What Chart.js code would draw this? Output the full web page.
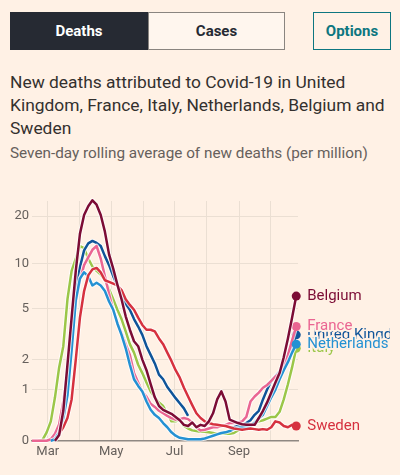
<!DOCTYPE html>
<html>
<head>
<meta charset="utf-8">
<script src="https://cdn.jsdelivr.net/npm/chart.js@4.4.0/dist/chart.umd.min.js"></script>
<style>
  html, body { margin: 0; padding: 0; background: #fff1e5; }
  body { width: 400px; height: 475px; position: relative; overflow: hidden; font-family: Roboto, sans-serif; color: #33302e; }
  .btn { position: absolute; top: 12px; height: 38px; box-sizing: border-box; display: flex; align-items: center; justify-content: center; font-weight: bold; font-size: 15px; }
  #deaths { left: 10px; width: 138px; background: #262a33; color: #fff; }
  #cases { left: 148px; width: 137px; border: 1px solid #8a8580; background: #fff6ee; color: #262a33; }
  #options { left: 313px; width: 78px; border: 1px solid #0d7680; color: #0d7680; }
  #title { position: absolute; left: 10px; top: 71px; font-size: 17.4px; line-height: 23px; white-space: nowrap; }
  #subtitle { position: absolute; left: 10px; top: 142px; font-size: 15.3px; line-height: 22px; color: #66605c; white-space: nowrap; }
  #wrap { position: absolute; left: 0; top: 190px; width: 390px; height: 285px; }
</style>
</head>
<body>
<div class="btn" id="deaths">Deaths</div>
<div class="btn" id="cases">Cases</div>
<div class="btn" id="options">Options</div>
<div id="title">New deaths attributed to Covid-19 in United<br>Kingdom, France, Italy, Netherlands, Belgium and<br>Sweden</div>
<div id="subtitle">Seven-day rolling average of new deaths (per million)</div>
<div id="wrap"><canvas id="chart"></canvas></div>
<script>
// day of year 2020 (0 = 1 Jan), one reading every 4 days
const days = [43, 47, 51, 55, 59, 63, 67, 71, 75, 79, 83, 87, 91, 95, 99, 103, 107, 111, 115, 119,
  123, 127, 131, 135, 139, 143, 147, 151, 155, 159, 163, 167, 171, 175, 179, 183, 187, 191, 195, 199,
  203, 207, 211, 215, 219, 223, 227, 231, 235, 239, 243, 247, 251, 255, 259, 263, 267, 271, 275, 279,
  283, 287, 291, 295, 299];

const monthTicks = [60, 91, 121, 152, 182, 213, 244, 274];
const monthLabels = ['Mar', '', 'May', '', 'Jul', '', 'Sep', ''];
const yTicks = [0, 1, 2, 5, 10, 20];

// deaths per million, 7-day average
const belgium = [null, null, null, null, null, null, 0, 0.08, 0.5, 1.8, 4.3, 9, 15.5, 20.3, 23, 25, 23.5, 20.3, 16, 11.5,
  9.3, 7.3, 5.8, 4.4, 3.5, 2.85, 2.6, 2.0, 1.6, 1.15, 0.8, 0.6, 0.52, 0.48, 0.44, 0.38, 0.32, 0.24, 0.22, 0.28,
  0.2, 0.24, 0.22, 0.3, 0.45, 0.75, 0.95, 0.7, 0.33, 0.3, 0.27, 0.25, 0.24, 0.24, 0.24, 0.36, 0.5, 0.68, 0.92, 1.2,
  1.5, 2.1, 3.0, 4.3, 6.1];
const sweden = [null, null, null, null, null, null, null, 0.1, 0.2, 0.36, 0.75, 2.0, 4.3, 6.6, 8.4, 9.2, 9.4, 8.8, 7.8, 7.6,
  7.4, 7.2, 6.7, 5.8, 5.3, 4.9, 4.3, 3.8, 3.5, 3.5, 3.4, 3.0, 2.7, 2.3, 1.95, 1.6, 1.35, 1.05, 0.82, 0.62,
  0.45, 0.36, 0.3, 0.27, 0.25, 0.24, 0.23, 0.22, 0.2, 0.18, 0.17, 0.16, 0.17, 0.18, 0.17, 0.16, 0.17, 0.16, 0.2, 0.3,
  0.28, 0.22, 0.2, 0.24, 0.22];
const netherlands = [null, null, null, null, null, 0, 0.02, 0.12, 0.35, 0.85, 2.4, 5.7, 8.0, 8.8, 8.3, 7.2, 7.5, 7.2, 6.6, 5.6,
  4.9, 3.9, 3.2, 2.5, 1.8, 1.3, 1.1, 0.95, 0.7, 0.52, 0.42, 0.36, 0.27, 0.2, 0.12, 0.07, 0.04, 0.03, 0.02, 0.02,
  0.02, 0.02, 0.03, 0.05, 0.07, 0.09, 0.11, 0.12, 0.14, 0.17, 0.19, 0.2, 0.2, 0.22, 0.28, 0.35, 0.42, 0.6, 0.8, 1.0,
  1.3, 1.6, 1.9, 2.3, 2.7];
const france = [0, 0, 0, 0, 0, 0.02, 0.1, 0.25, 0.7, 1.6, 3.2, 5.5, 7.8, 9.8, 11, 12.3, 13, 10.8, 8.3, 6.3,
  4.9, 3.9, 3.3, 2.7, 2.2, 1.5, 1.2, 0.95, 0.82, 0.65, 0.58, 0.5, 0.45, 0.4, 0.36, 0.33, 0.34, 0.36, 0.34, 0.28,
  0.2, 0.15, 0.16, 0.18, 0.2, 0.2, 0.22, 0.24, 0.27, 0.27, 0.28, 0.3, 0.38, 0.7, 0.82, 0.92, 1.05, 1.13, 1.25, 1.38,
  1.5, 1.75, 2.2, 2.9, 3.7];
const unitedKingdom = [null, null, null, null, null, 0, 0.05, 0.2, 0.6, 1.6, 3.5, 6.5, 9.5, 12.2, 13.5, 14, 13.6, 13, 11.2, 9.8,
  8.3, 7.2, 6.2, 5.4, 4.9, 4.2, 3.7, 3.2, 2.6, 2.2, 1.85, 1.45, 1.3, 1.07, 0.92, 0.78, 0.66, 0.55, 0.4, null,
  null, null, null, null, null, null, null, null, 0.18, 0.2, 0.22, 0.24, 0.27, 0.32, 0.42, 0.5, 0.75, 1.0, 1.25, 1.4,
  1.55, 1.75, 2.2, 2.6, 3.2];
const italy = [null, null, 0, 0.01, 0.12, 0.3, 0.8, 1.7, 2.6, 5.8, 9.0, 10.8, 13.0, 12.6, 10.8, 9.6, 9.0, 8.5, 7.8, 6.8,
  5.8, 4.9, 4.2, 3.4, 2.7, 2.3, 1.8, 1.5, 1.2, 0.95, 0.8, 0.68, 0.6, 0.45, 0.3, 0.3, 0.33, 0.22, 0.18, 0.15,
  0.14, 0.13, 0.13, 0.12, 0.11, 0.1, 0.1, 0.1, 0.1, 0.11, 0.15, 0.18, 0.2, 0.22, 0.27, 0.3, 0.32, 0.35, 0.38, 0.38,
  0.48, 0.75, 1.15, 1.7, 2.5];

const names = ['Belgium', 'Sweden', 'Netherlands', 'France', 'United Kingdom', 'Italy'];
const series = [belgium, sweden, netherlands, france, unitedKingdom, italy];
const colors = ['#7c0c35', '#d6313f', '#2491d3', '#ea6592', '#0f5499', '#9bc648'];
// later entries are written on top
const labelOrder = ['Italy', 'United Kingdom', 'France', 'Netherlands', 'Belgium', 'Sweden'];

const FONT = 'Roboto, sans-serif';
const sym = v => v == null ? null : Math.log10(1 + v);

// each country gets a pale halo line drawn just under it
const datasets = [];
names.forEach((name, i) => {
  const pts = days.map((d, j) => ({ x: d, y: sym(series[i][j]) }));
  datasets.push({
    label: name,
    data: pts,
    borderColor: colors[i],
    backgroundColor: colors[i],
    borderWidth: 2.5,
    borderJoinStyle: 'round',
    tension: 0,
    clip: { left: 0, right: 8, top: 6, bottom: 6 },
    pointRadius: c => c.dataIndex === days.length - 1 ? 4.5 : 0,
    pointBorderWidth: 0,
    pointBackgroundColor: colors[i]
  });
  datasets.push({
    label: name + ' halo',
    data: pts,
    borderColor: 'rgba(255,255,255,0.75)',
    borderWidth: 4.5,
    borderJoinStyle: 'round',
    tension: 0,
    clip: { left: 0, right: 8, top: 6, bottom: 6 },
    pointRadius: 0
  });
});

const endLabels = {
  id: 'endLabels',
  afterDatasetsDraw(chart) {
    const ctx = chart.ctx;
    ctx.save();
    ctx.font = '15px ' + FONT;
    ctx.textBaseline = 'middle';
    ctx.lineJoin = 'round';
    labelOrder.forEach(name => {
      const i = names.indexOf(name);
      const meta = chart.getDatasetMeta(i * 2);
      const pt = meta.data[meta.data.length - 1];
      ctx.lineWidth = 4;
      ctx.strokeStyle = '#fff1e5';
      ctx.strokeText(name, pt.x + 11, pt.y);
      ctx.fillStyle = colors[i];
      ctx.fillText(name, pt.x + 11, pt.y);
    });
    ctx.restore();
  }
};

new Chart(document.getElementById('chart'), {
  type: 'line',
  data: { datasets },
  options: {
    responsive: true,
    maintainAspectRatio: false,
    animation: false,
    events: [],
    layout: { padding: { top: 11, right: 92, left: 0, bottom: 0 } },
    plugins: { legend: { display: false }, tooltip: { enabled: false } },
    scales: {
      x: {
        type: 'linear',
        min: 44.9,
        max: 300.7,
        afterBuildTicks: axis => { axis.ticks = monthTicks.map(v => ({ value: v })); },
        afterFit: axis => { axis.height = 34.3; },
        ticks: {
          autoSkip: false,
          maxRotation: 0,
          padding: 3,
          color: '#66605c',
          font: { family: FONT, size: 13 },
          callback: (v, i) => monthLabels[i]
        },
        grid: { color: '#ebdfd3', drawTicks: false },
        border: { display: true, color: '#8f8882', width: 1.5 }
      },
      y: {
        type: 'linear',
        min: 0,
        max: 1.411,
        afterBuildTicks: axis => { axis.ticks = yTicks.map(v => ({ value: sym(v) })); },
        afterFit: axis => { axis.width = 32; },
        ticks: {
          padding: 3,
          color: '#66605c',
          font: { family: FONT, size: 13 },
          callback: (v, i) => yTicks[i]
        },
        grid: {
          drawTicks: false,
          color: c => c.tick && c.tick.value === 0 ? 'rgba(0,0,0,0)' : '#ebdfd3'
        },
        border: { display: false }
      }
    }
  },
  plugins: [endLabels]
});
</script>
</body>
</html>
